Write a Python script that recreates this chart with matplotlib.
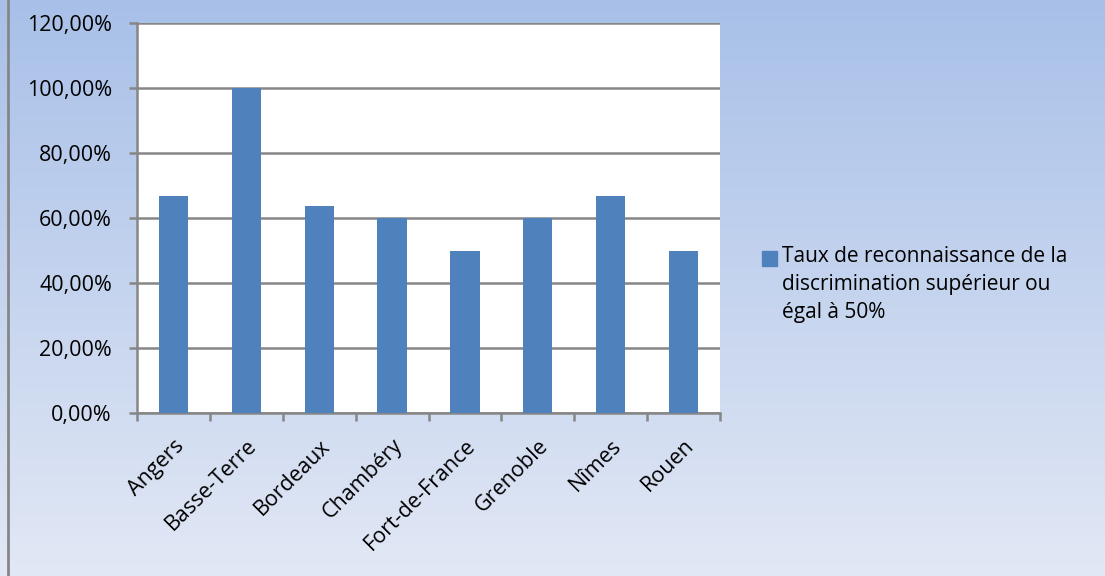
import numpy as np
import matplotlib.pyplot as plt
from matplotlib.ticker import FuncFormatter
from matplotlib.patches import Rectangle

# data
villes = ['Angers', 'Basse-Terre', 'Bordeaux', 'Chambéry', 'Fort-de-France',
          'Grenoble', 'Nîmes', 'Rouen']
taux = [0.6667, 1.0, 0.6364, 0.60, 0.50, 0.60, 0.6667, 0.50]
yticks = [0, 0.2, 0.4, 0.6, 0.8, 1.0, 1.2]
legende = 'Taux de reconnaissance de la\ndiscrimination supérieur ou\négal à 50%'

plt.rcParams['font.family'] = ['Open Sans', 'DejaVu Sans']
bleu = '#4F81BD'
gris = '#868686'
W, H = 1105, 576

fig = plt.figure(figsize=(11.05, 5.76), dpi=100)

# gradient background
bg = fig.add_axes([0, 0, 1, 1], zorder=-10)
grad = np.linspace(0, 1, 256).reshape(-1, 1)
top = np.array([168, 192, 232]) / 255
bot = np.array([226, 232, 245]) / 255
img = top + (bot - top) * grad[:, :, None]
bg.imshow(img, aspect='auto', extent=[0, 1, 0, 1])
bg.plot([8 / W, 8 / W], [0, 1], color=gris, lw=2)
bg.set_xlim(0, 1)
bg.set_ylim(0, 1)
bg.axis('off')

ax = fig.add_axes([137 / W, 1 - 413 / H, 583 / W, 390 / H])
ax.set_facecolor('white')
x = np.arange(len(villes))
ax.bar(x, taux, width=0.4, color=bleu, zorder=3)

ax.set_ylim(0, 1.2)
ax.set_xlim(-0.5, len(villes) - 0.5)
ax.set_yticks(yticks)
ax.yaxis.set_major_formatter(FuncFormatter(lambda v, p: f'{v*100:.2f}%'.replace('.', ',')))
ax.grid(axis='y', color=gris, lw=1.8, zorder=0)

ax.set_xticks(np.arange(-0.5, len(villes), 1.0))
ax.set_xticklabels([])
ax.set_xticks(x, minor=True)
ax.set_xticklabels(villes, minor=True, rotation=45, ha='right', va='top',
                   rotation_mode='anchor', fontsize=15.5)
ax.tick_params(axis='x', which='minor', length=0, pad=16)
ax.tick_params(axis='x', which='major', length=6, width=1.8, color=gris)
ax.tick_params(axis='y', length=6, width=1.8, color=gris, labelsize=15.5, pad=12)

for s in ['top', 'right']:
    ax.spines[s].set_visible(False)
for s in ['left', 'bottom']:
    ax.spines[s].set_color(gris)
    ax.spines[s].set_linewidth(1.8)

# legend: square + wrapped label, square aligned with first line
fig.patches.append(Rectangle((762 / W, 1 - 266 / H), 15 / W, 15 / H,
                             transform=fig.transFigure, color=bleu))
fig.text(782 / W, 1 - 246 / H, legende, fontsize=15, va='top', ha='left',
         linespacing=1.45)

fig.savefig('out.png', dpi=100)
